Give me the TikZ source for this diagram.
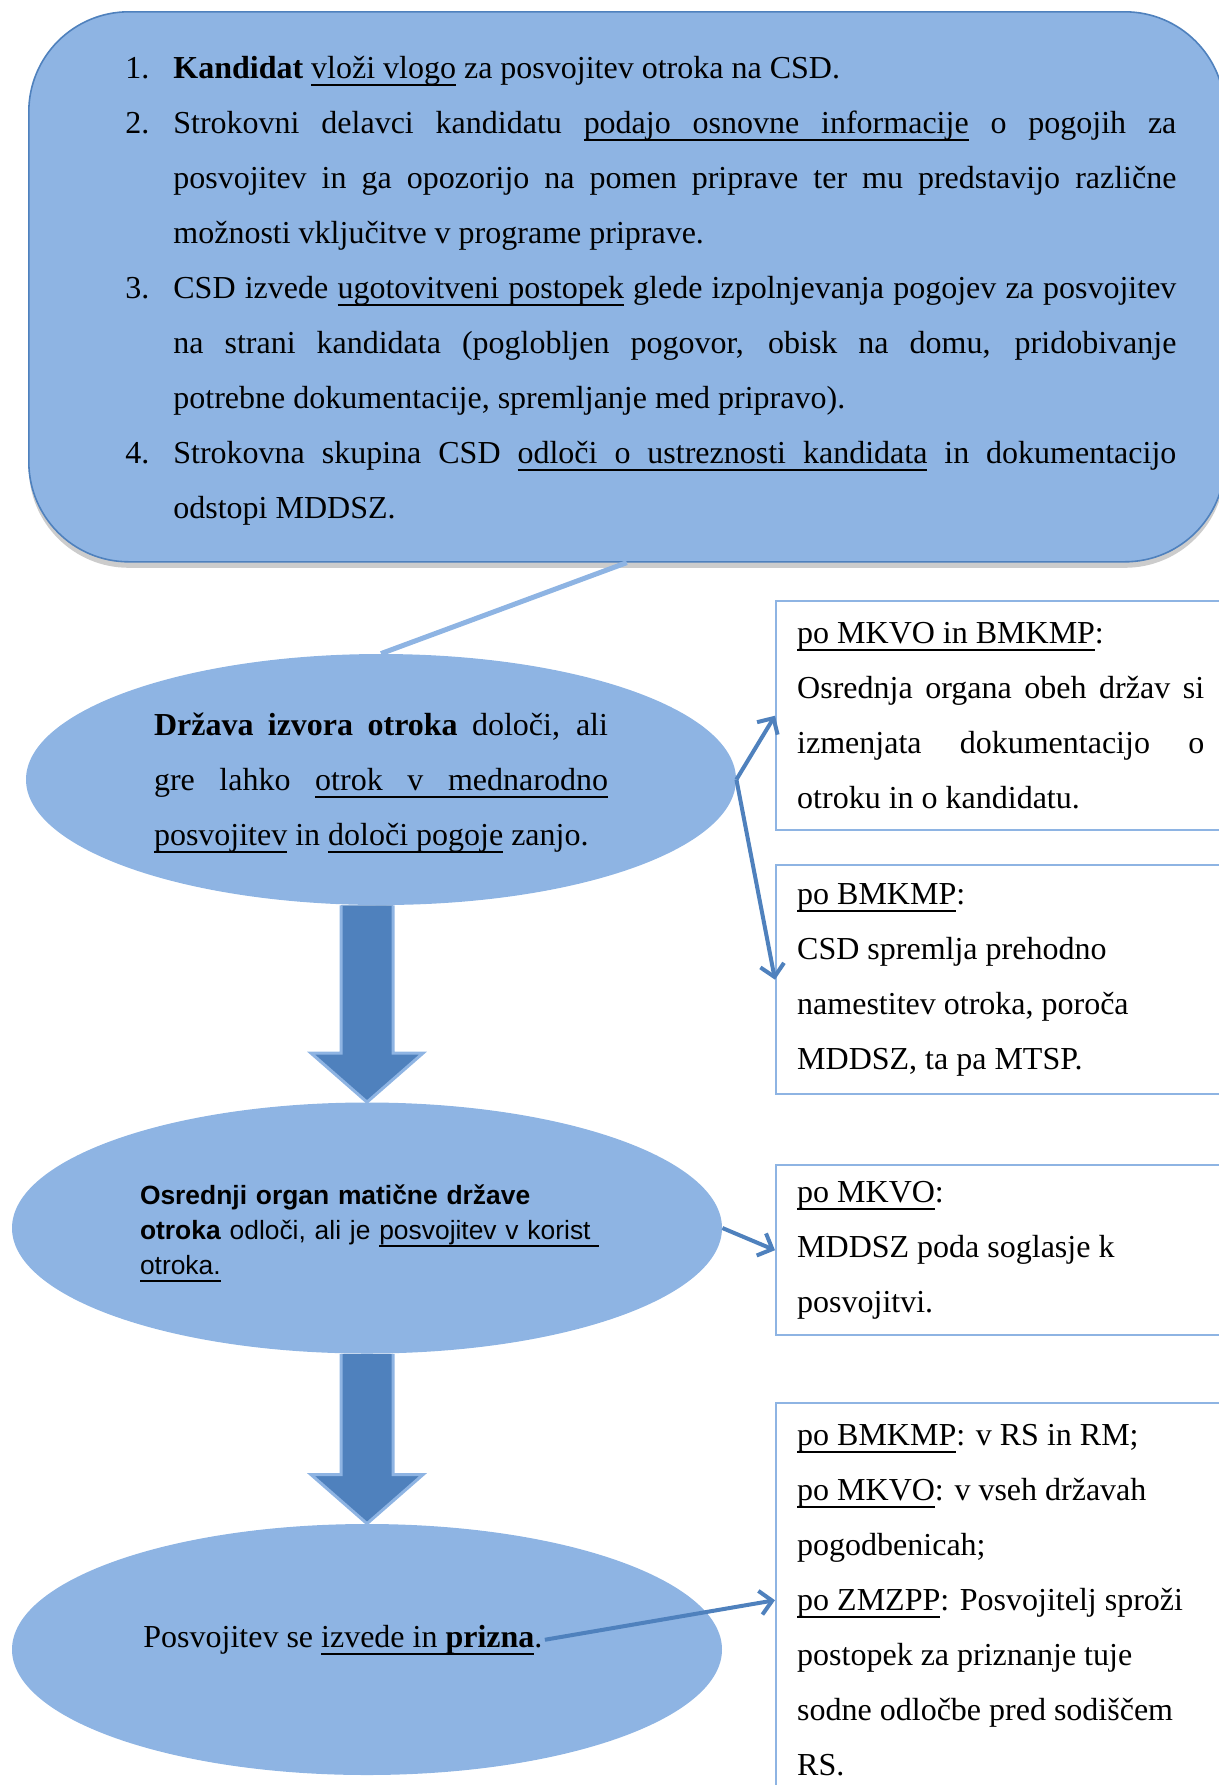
\documentclass[tikz,border=0pt]{standalone}
\usepackage{fontspec}
\setmainfont{Liberation Serif}
\newfontfamily\arialfont{Liberation Sans}
\usetikzlibrary{arrows.meta,calc,shapes.geometric,shadows}
\definecolor{sv}{HTML}{8EB4E3}
\definecolor{tm}{HTML}{4F81BD}
\newcommand\crta[1]{\leavevmode\setbox0\hbox{#1}\rlap{\vrule height -2.85pt depth 3.85pt width \wd0}\box0\relax}
\newcommand\crtap{\leaders\hrule height -2.85pt depth 3.85pt\hskip\fontdimen2\font plus\fontdimen3\font minus\fontdimen4\font\relax}
\tikzset{
  oblak/.style={draw=tm, line width=0.8pt, fill=sv, rounded corners=50pt, minimum width=598pt, minimum height=275pt, anchor=north west, drop shadow={opacity=0.4, shadow xshift=0pt, shadow yshift=-3pt}},
  jajce/.style={ellipse, fill=sv, draw=none, minimum width=355pt, minimum height=125.5pt, inner sep=0pt},
  besedilo/.style={font=\fontsize{16}{27.5}\selectfont},
  okvir/.style={besedilo, draw=sv, line width=1.2pt, fill=white, anchor=north west, text width=203.5pt, inner xsep=10.5pt, inner ysep=0pt, align=justify},
  puscica/.style={draw=tm, line width=2pt, -{Straight Barb[length=6pt,width=12pt]}},
  blok/.style={fill=tm, draw=sv, line width=1.5pt, line join=miter},
  kazalec/.style={draw=sv, line width=2.5pt}
}
\begin{document}
\begin{tikzpicture}[x=0.5pt,y=-0.5pt]
  \useasboundingbox (0,0) rectangle (1219,1785);
  \clip (0,0) rectangle (1219,1785);

  \node[oblak] (prijava) at (28,11) {};
  \node[besedilo, anchor=base west, inner sep=0pt, text width=525.5pt, align=justify] (koraki) at (125,78) {%
    \hyphenpenalty=10000 \exhyphenpenalty=10000 \tolerance=10000
    \makebox[24pt][l]{1.}\textbf{Kandidat} \crta{vloži}\crtap\crta{vlogo} za posvojitev otroka na CSD.\par
    \hangindent=24pt \hangafter=1 \makebox[24pt][l]{2.}Strokovni delavci kandidatu \crta{podajo}\crtap\crta{osnovne}\crtap\crta{informacije} o pogojih za\linebreak
    posvojitev in ga opozorijo na pomen priprave ter mu predstavijo različne\linebreak
    možnosti vključitve v programe priprave.\par
    \hangindent=24pt \hangafter=1 \makebox[24pt][l]{3.}CSD izvede \crta{ugotovitveni}\crtap\crta{postopek} glede izpolnjevanja pogojev za posvojitev\linebreak
    na strani kandidata (poglobljen pogovor, obisk na domu, pridobivanje\linebreak
    potrebne dokumentacije, spremljanje med pripravo).\par
    \hangindent=24pt \hangafter=1 \makebox[24pt][l]{4.}Strokovna skupina CSD \crta{odloči}\crtap\crta{o}\crtap\crta{ustreznosti}\crtap\crta{kandidata} in dokumentacijo\linebreak
    odstopi MDDSZ.\par};

  \node[jajce, besedilo, text width=227pt, align=justify] (e1) at (381,779.5) {%
    \hyphenpenalty=10000 \tolerance=10000
    \rule{0pt}{14.9pt}\textbf{Država izvora otroka} določi, ali\linebreak
    gre lahko \crta{otrok}\crtap\crta{v}\crtap\crta{mednarodno}\linebreak
    \crta{posvojitev} in \crta{določi}\crtap\crta{pogoje} zanjo.\par};
  \node[jajce, font=\arialfont\fontsize{13.2}{17.5}\selectfont, text width=227pt, align=left] (e2) at (367,1228) {%
    \rule{0pt}{15.6pt}\textbf{Osrednji organ matične države}\\
    \mbox{\textbf{otroka} odloči, ali je \crta{posvojitev v korist\ }}\\
    \crta{otroka.}};
  \node[jajce] (e3) at (367,1649.5) {};
  \node[besedilo, anchor=base west, inner sep=1pt] (t3) at (141,1647) {Posvojitev se \crta{izvede in \textbf{prizna}}.};

  \node[okvir, minimum height=114.5pt] (b1) at (775,600) {%
    \tolerance=10000
    \crta{po MKVO in BMKMP}:\par
    Osrednja organa obeh držav si\linebreak
    izmenjata dokumentacijo o\linebreak
    otroku in o kandidatu.\par};
  \node[okvir, minimum height=114.5pt] (b2) at (775,864) {%
    \crta{po BMKMP}:\par
    CSD spremlja prehodno\par
    namestitev otroka, poroča\par
    MDDSZ, ta pa MTSP.\par};
  \node[okvir, minimum height=85pt] (b3) at (775,1164) {%
    \crta{po MKVO}:\par
    MDDSZ poda soglasje k\par
    posvojitvi.\par};
  \node[okvir, minimum height=197pt] (b4) at (775,1402) {%
    \crta{po BMKMP}: v RS in RM;\par
    \crta{po MKVO}: v vseh državah\par
    pogodbenicah;\par
    \crta{po ZMZPP}: Posvojitelj sproži\par
    postopek za priznanje tuje\par
    sodne odločbe pred sodiščem\par
    RS.\par};

  \draw[kazalec] (prijava.south) -- (e1.north);

  \draw[puscica] (e1.east) -- (b1.west);
  \draw[puscica] (e1.east) -- (b2.west);
  \draw[puscica] (e2.east) -- (b3.west);
  \draw[puscica] (t3.east) -- (b4.west);

  \coordinate (s1) at (e1.south -| e2.north);
  \filldraw[blok] ($(s1)+(-26,0)$) -- ($(e2.north)+(-26,-49)$) -- ($(e2.north)+(-56,-49)$) -- (e2.north)
    -- ($(e2.north)+(56,-49)$) -- ($(e2.north)+(26,-49)$) -- ($(s1)+(26,0)$);
  \coordinate (s2) at (e2.south);
  \filldraw[blok] ($(s2)+(-26,0)$) -- ($(e3.north)+(-26,-49)$) -- ($(e3.north)+(-56,-49)$) -- (e3.north)
    -- ($(e3.north)+(56,-49)$) -- ($(e3.north)+(26,-49)$) -- ($(s2)+(26,0)$);

\end{tikzpicture}
\end{document}
